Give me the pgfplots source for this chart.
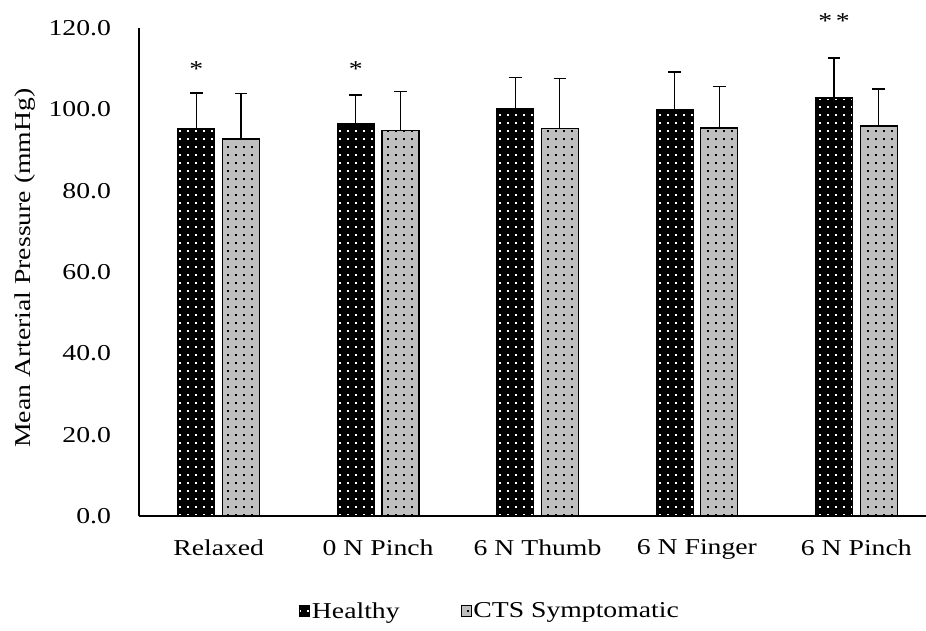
\documentclass[border=0pt]{standalone}
\usepackage{fontspec}
\setmainfont{Liberation Serif}[FakeStretch=1.22]
\usepackage{pgfplots}
\pgfplotsset{compat=1.18}
\usepackage{pgfplotstable}
\usetikzlibrary{patterns}
\pgfdeclarepatternformonly{bigdots}{\pgfqpoint{-1pt}{-1pt}}{\pgfqpoint{9pt}{9pt}}{\pgfqpoint{8pt}{8pt}}{\pgfpathrectangle{\pgfqpoint{3pt}{3pt}}{\pgfqpoint{2pt}{2pt}}\pgfusepath{fill}}
\definecolor{ctsgray}{RGB}{191,191,191}
\newcommand{\chartfont}{\fontsize{22.7}{27}\selectfont}

\pgfplotstableread{
x y e
0 95.2 8.8
1 96.6 6.9
2 100.1 7.8
3 99.9 9.3
4 102.8 9.8
}\healthy
\pgfplotstableread{
x y e
0 92.7 11.1
1 94.7 9.6
2 95.2 12.3
3 95.4 10.3
4 95.9 9.1
}\cts
\pgfplotstableread{
x y label
-0.14 108.0 *
0.86 108.0 *
3.86 119.8 *\,*
}\stars

\begin{document}
\begin{tikzpicture}
\begin{axis}[
  scale only axis, width=787pt, height=488pt,
  xmin=-0.5, xmax=4.437, ymin=0, ymax=120,
  clip=false,
  axis x line*=bottom, axis y line*=left,
  axis line style={line width=1.2pt, black},
  major tick length=0pt,
  xtick={0,1,2,3,4},
  xticklabels={Relaxed, 0 N Pinch, 6 N Thumb, 6 N Finger, 6 N Pinch},
  ytick={0,20,40,60,80,100,120},
  /pgf/number format/fixed, /pgf/number format/fixed zerofill,
  /pgf/number format/precision=1, /pgf/number format/assume math mode=true,
  tick label style={font=\chartfont},
  xticklabel style={yshift=-20pt},
  yticklabel style={xshift=-24.5pt},
  ylabel={Mean Arterial Pressure (mmHg)},
  ylabel style={font=\chartfont, at={(axis description cs:-0.145,0.508)}, anchor=center},
  legend style={font=\chartfont, at={(axis description cs:0.446,-0.195)}, anchor=center, draw=none, fill=none,
    legend columns=2, /tikz/every even column/.append style={column sep=59pt}},
  legend cell align=left,
  legend image code/.code={\draw[#1, line width=0.8pt] (-3pt,-5.5pt) rectangle (7pt,5.5pt);},
]
\addplot[ybar, bar width=0.232, bar shift=0pt, fill=black, draw=black, line width=1.2pt,
  postaction={pattern=bigdots, pattern color=white},
  error bars/.cd, y dir=plus, y explicit,
  error bar style={line width=1.2pt, black},
  error mark options={rotate=90, mark size=6.3pt, line width=1.2pt, black}]
  table[x expr=\thisrow{x}-0.14, y=y, y error=e]{\healthy};
\addlegendentry{Healthy}
\addplot[ybar, bar width=0.232, bar shift=0pt, fill=ctsgray, draw=black, line width=1.2pt,
  postaction={pattern=bigdots, pattern color=black},
  error bars/.cd, y dir=plus, y explicit,
  error bar style={line width=1.2pt, black},
  error mark options={rotate=90, mark size=6.3pt, line width=1.2pt, black}]
  table[x expr=\thisrow{x}+0.14, y=y, y error=e]{\cts};
\addlegendentry{CTS Symptomatic}
\addplot[draw=none, mark=none, forget plot, nodes near coords, point meta=explicit symbolic,
  nodes near coords style={anchor=base, inner sep=0pt, font=\chartfont, text=black}]
  table[x=x, y=y, meta=label]{\stars};
\end{axis}
\pgfresetboundingbox
\path ([shift={(-139pt,-115pt)}]current axis.south west) rectangle ([shift={(0pt,28pt)}]current axis.north east);
\end{tikzpicture}
\end{document}
